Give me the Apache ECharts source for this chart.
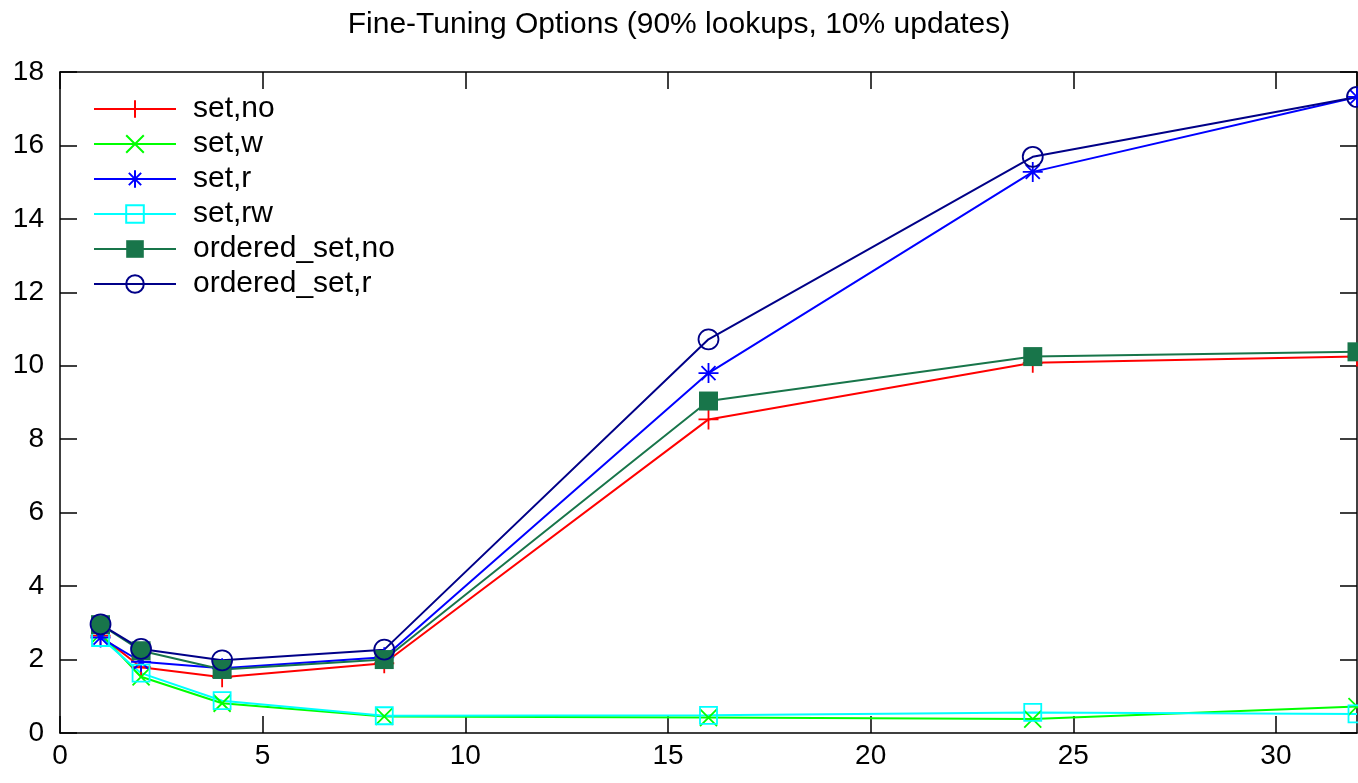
<!DOCTYPE html>
<html>
<head>
<meta charset="utf-8">
<script src="https://cdn.jsdelivr.net/npm/echarts@6/dist/echarts.min.js"></script>
<style>
  html, body { margin: 0; padding: 0; background: #fff; }
  #chart { width: 1358px; height: 783px; }
</style>
</head>
<body>
<div id="chart"></div>
<script>
const threads = [1, 2, 4, 8, 16, 24, 32];
const setNo = [2.65, 1.79, 1.52, 1.9, 8.54, 10.08, 10.25];
const setW = [2.7, 1.53, 0.81, 0.45, 0.42, 0.38, 0.72];
const setR = [2.6, 1.94, 1.76, 2.06, 9.8, 15.28, 17.32];
const setRw = [2.6, 1.63, 0.88, 0.47, 0.48, 0.56, 0.52];
const orderedNo = [2.95, 2.24, 1.73, 2.0, 9.04, 10.25, 10.38];
const orderedR = [2.96, 2.29, 1.98, 2.27, 10.72, 15.69, 17.32];

const font = "Liberation Sans, Arial, sans-serif";

// gnuplot-like point types
const plus = "path://M10,0L10,20M0,10L20,10";
const cross = "path://M0,0L20,20M20,0L0,20";
const star = "path://M10,0L10,20M0,10L20,10M3,3L17,17M17,3L3,17";

function pairs(values) {
  return values.map((v, i) => [threads[i], v]);
}

function makeSeries(name, values, color, symbol, size, filled) {
  return {
    name,
    type: "line",
    data: pairs(values),
    symbol,
    symbolSize: size,
    showAllSymbol: true,
    lineStyle: { color, width: 2 },
    itemStyle: {
      color: filled ? color : "rgba(0,0,0,0)",
      borderColor: color,
      borderWidth: filled ? 0 : 1.8,
    },
    emphasis: { disabled: true },
    animation: false,
  };
}

const series = [
  makeSeries("set,no", setNo, "#ff0000", plus, 20, false),
  makeSeries("set,w", setW, "#00ff00", cross, 17, false),
  makeSeries("set,r", setR, "#0000ff", star, 20, false),
  makeSeries("set,rw", setRw, "#00ffff", "rect", 17, false),
  makeSeries("ordered_set,no", orderedNo, "#18754a", "rect", 19, true),
  makeSeries("ordered_set,r", orderedR, "#000088", "circle", 20, false),
];

const tickStyle = { inside: true, length: 17, lineStyle: { color: "#000", width: 1.5 } };
const lineStyle = { show: true, onZero: false, lineStyle: { color: "#000", width: 1.5 } };

const chart = echarts.init(document.getElementById("chart"), null, { renderer: "canvas" });
chart.setOption({
  animation: false,
  textStyle: { fontFamily: font },
  title: {
    text: "Fine-Tuning Options (90% lookups, 10% updates)",
    left: "center",
    top: 5,
    textStyle: { fontFamily: font, fontSize: 30, fontWeight: "normal", color: "#000" },
  },
  legend: {
    orient: "vertical",
    left: 93,
    top: 94,
    padding: 0,
    itemWidth: 82,
    itemHeight: 22,
    itemGap: 5,
    textStyle: {
      fontFamily: font,
      fontSize: 30,
      lineHeight: 30,
      color: "#000",
      padding: [0, 0, 0, 12],
    },
    data: series.map((s) => s.name),
  },
  grid: { left: 60, right: 1, top: 72, bottom: 50 },
  xAxis: [
    {
      type: "value",
      min: 0,
      max: 32,
      interval: 5,
      axisLine: lineStyle,
      axisTick: tickStyle,
      splitLine: { show: false },
      axisLabel: {
        color: "#000",
        fontSize: 28,
        fontFamily: font,
        margin: 9,
        showMaxLabel: false,
      },
    },
    {
      type: "value",
      position: "top",
      min: 0,
      max: 32,
      interval: 5,
      axisLine: lineStyle,
      axisTick: tickStyle,
      splitLine: { show: false },
      axisLabel: { show: false },
    },
  ],
  yAxis: [
    {
      type: "value",
      min: 0,
      max: 18,
      interval: 2,
      axisLine: lineStyle,
      axisTick: tickStyle,
      splitLine: { show: false },
      axisLabel: { color: "#000", fontSize: 28, fontFamily: font, margin: 16 },
    },
    {
      type: "value",
      position: "right",
      min: 0,
      max: 18,
      interval: 2,
      axisLine: lineStyle,
      axisTick: tickStyle,
      splitLine: { show: false },
      axisLabel: { show: false },
    },
  ],
  series,
});
</script>
</body>
</html>
